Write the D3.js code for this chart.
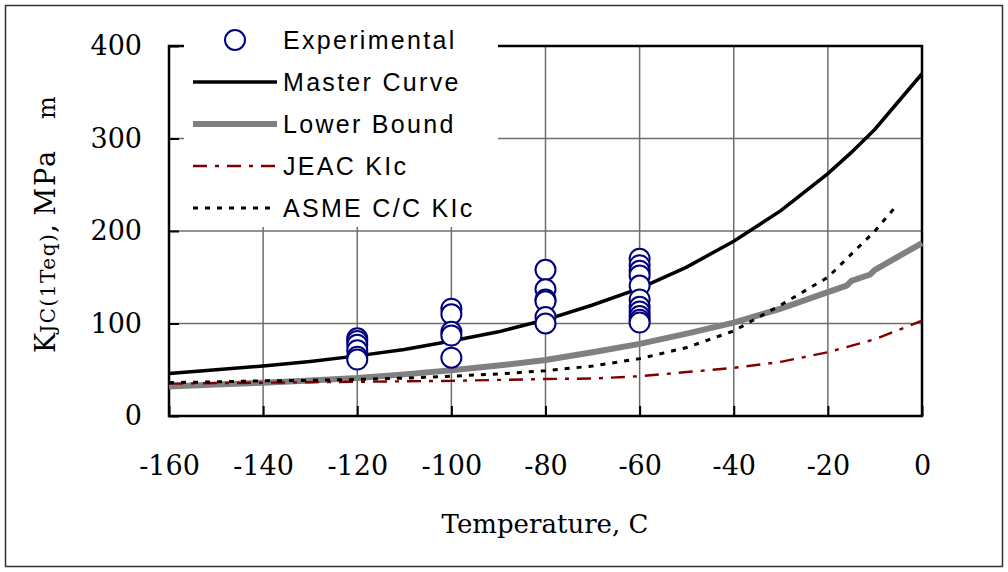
<!DOCTYPE html>
<html>
<head>
<meta charset="utf-8">
<script src="https://cdn.jsdelivr.net/npm/d3@7"></script>
<style>
  body { margin: 0; background: #fff; }
  svg { display: block; }
</style>
</head>
<body>
<script>
// Master curve
var masterT = [-160, -150, -140, -130, -120, -110, -100, -90, -80, -70, -60, -50, -40, -30, -20, -15, -10, 0];
var masterK = [46, 50, 54, 59, 65, 72, 81, 91, 104, 120, 138, 161, 189, 222, 262, 285, 310, 370];

// Lower bound
var lowerT = [-160, -150, -140, -130, -120, -110, -100, -90, -80, -70, -60, -50, -40, -30, -20, -16, -15, -11, -10, 0];
var lowerK = [32, 34, 36, 38.5, 41, 45, 49.5, 54.5, 60.5, 69, 78, 89, 101, 116, 134, 141, 146, 153, 158, 187];

// JEAC KIc
var jeacT = [-160, -150, -140, -130, -120, -110, -100, -90, -80, -70, -60, -50, -40, -30, -20, -10, 0];
var jeacK = [35, 35.5, 36, 36.5, 37, 37.5, 38, 39, 40, 40.5, 43, 47.5, 52, 58.5, 69, 83, 103];

// ASME C/C KIc
var asmeT = [-160, -150, -140, -130, -120, -110, -100, -90, -80, -70, -60, -50, -40, -30, -20, -10, -6];
var asmeK = [36, 37, 38, 38.5, 39.5, 41, 43, 45.5, 49, 54, 62, 74, 92, 120, 150, 200, 224];

// Experimental points
var expT = [-120, -120, -120, -120, -120, -120,
            -100, -100, -100, -100, -100,
            -80, -80, -80, -80, -80, -80,
            -60, -60, -60, -60, -60, -60, -60, -60, -60, -60, -60];
var expK = [84, 81, 77, 71, 64, 61,
            116, 110, 91, 87, 63,
            158, 137, 126, 124, 107, 100,
            170, 163, 157, 152, 141, 126, 118, 113, 108, 104, 101];

var xTicks = [-160, -140, -120, -100, -80, -60, -40, -20, 0];
var yTicks = [0, 100, 200, 300, 400];
var legendNames = ["Experimental", "Master Curve", "Lower Bound", "JEAC KIc", "ASME C/C KIc"];

var width = 1008, height = 572;
var serif = "'DejaVu Serif', serif";
var sans = "'Liberation Sans', Arial, sans-serif";

var svg = d3.select("body").append("svg")
    .attr("width", width)
    .attr("height", height);

// outer border
svg.append("rect")
    .attr("x", 5.5).attr("y", 5.5)
    .attr("width", 997).attr("height", 561)
    .attr("fill", "none")
    .attr("stroke", "#333")
    .attr("stroke-width", 1.5);

var x = d3.scaleLinear().domain([-160, 0]).range([169, 922]);
var y = d3.scaleLinear().domain([0, 400]).range([416, 46]);

// grid
svg.append("g").selectAll("line")
    .data(xTicks.slice(1, -1))
    .enter().append("line")
    .attr("x1", function(d) { return x(d); })
    .attr("x2", function(d) { return x(d); })
    .attr("y1", y(0)).attr("y2", y(400))
    .attr("stroke", "#6e6e6e")
    .attr("stroke-width", 1.5);

svg.append("g").selectAll("line")
    .data(yTicks.slice(1, -1))
    .enter().append("line")
    .attr("x1", x(-160)).attr("x2", x(0))
    .attr("y1", function(d) { return y(d); })
    .attr("y2", function(d) { return y(d); })
    .attr("stroke", "#6e6e6e")
    .attr("stroke-width", 1.5);

// frame
svg.append("rect")
    .attr("x", x(-160)).attr("y", y(400))
    .attr("width", x(0) - x(-160)).attr("height", y(0) - y(400))
    .attr("fill", "none")
    .attr("stroke", "#000")
    .attr("stroke-width", 2.5);

// axes (inward ticks), plain hyphen for negatives
var fmt = function(d) { return String(d); };
var xAxis = svg.append("g")
    .attr("transform", "translate(0," + y(0) + ")")
    .call(d3.axisBottom(x).tickValues(xTicks).tickFormat(fmt).tickSize(-10).tickPadding(40));
var yAxis = svg.append("g")
    .attr("transform", "translate(" + x(-160) + ",0)")
    .call(d3.axisLeft(y).tickValues(yTicks).tickFormat(fmt).tickSize(-10).tickPadding(27));

[xAxis, yAxis].forEach(function(a) {
  a.select(".domain").remove();
  a.selectAll(".tick line").attr("stroke", "#000").attr("stroke-width", 2);
  a.selectAll("text")
      .attr("font-family", serif)
      .attr("font-size", 27)
      .attr("fill", "#000");
});

// legend box covers the grid at top left
svg.append("rect")
    .attr("x", 184).attr("y", 14)
    .attr("width", 314).attr("height", 213)
    .attr("fill", "#fff");

var line = d3.line()
    .x(function(d) { return x(d[0]); })
    .y(function(d) { return y(d[1]); });

function pairs(t, k) {
  return t.map(function(d, i) { return [d, k[i]]; });
}

var styles = [
  null,
  { stroke: "#000", width: 3.5, dash: null },
  { stroke: "#808080", width: 6, dash: null },
  { stroke: "#800000", width: 2.4, dash: "14,8,4,8" },
  { stroke: "#000", width: 3, dash: "5,7" }
];

var curves = [
  { data: pairs(lowerT, lowerK), s: styles[2] },
  { data: pairs(jeacT, jeacK), s: styles[3] },
  { data: pairs(asmeT, asmeK), s: styles[4] },
  { data: pairs(masterT, masterK), s: styles[1] }
];

svg.append("g").selectAll("path")
    .data(curves)
    .enter().append("path")
    .attr("d", function(d) { return line(d.data); })
    .attr("fill", "none")
    .attr("stroke", function(d) { return d.s.stroke; })
    .attr("stroke-width", function(d) { return d.s.width; })
    .attr("stroke-dasharray", function(d) { return d.s.dash; });

// experimental points
svg.append("g").selectAll("circle")
    .data(pairs(expT, expK))
    .enter().append("circle")
    .attr("cx", function(d) { return x(d[0]); })
    .attr("cy", function(d) { return y(d[1]); })
    .attr("r", 10)
    .attr("fill", "#fff")
    .attr("stroke", "#000080")
    .attr("stroke-width", 2);

// legend
var legend = svg.append("g");
var row = legend.selectAll("g")
    .data(legendNames)
    .enter().append("g")
    .attr("transform", function(d, i) { return "translate(0," + (40 + i * 42) + ")"; });

row.each(function(d, i) {
  var g = d3.select(this);
  if (i === 0) {
    g.append("circle")
        .attr("cx", 235).attr("cy", 0).attr("r", 10)
        .attr("fill", "#fff")
        .attr("stroke", "#000080")
        .attr("stroke-width", 2);
  } else {
    g.append("line")
        .attr("x1", 193).attr("x2", 277)
        .attr("y1", 0).attr("y2", 0)
        .attr("stroke", styles[i].stroke)
        .attr("stroke-width", styles[i].width)
        .attr("stroke-dasharray", styles[i].dash);
  }
  g.append("text")
      .attr("x", 283).attr("y", 9)
      .attr("font-family", sans)
      .attr("font-size", 25)
      .attr("letter-spacing", 2.3)
      .text(d);
});

// axis titles
svg.append("text")
    .attr("x", 545).attr("y", 533)
    .attr("text-anchor", "middle")
    .attr("font-family", serif)
    .attr("font-size", 26)
    .text("Temperature, C");

var yl = svg.append("text")
    .attr("transform", "translate(55,353) rotate(-90)")
    .attr("font-family", serif)
    .attr("font-size", 27);
yl.append("tspan").text("K");
yl.append("tspan").attr("font-size", 20).attr("letter-spacing", 1.5).text("JC(1Teq)");
yl.append("tspan").text(", ");
yl.append("tspan").attr("letter-spacing", 2).text("MPa");
yl.append("tspan").attr("dx", 30).attr("font-size", 24).text("m");
</script>
</body>
</html>
